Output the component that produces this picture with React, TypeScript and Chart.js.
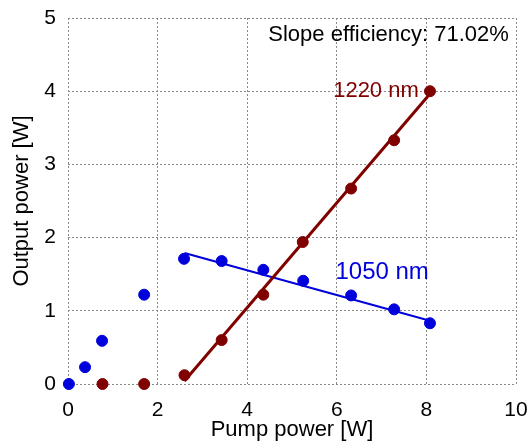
import React, { useEffect, useRef } from "react";
import { Chart, registerables } from "chart.js";

Chart.register(...registerables);

const blueX = [0.02, 0.38, 0.76, 1.7, 2.59, 3.43, 4.36, 5.25, 6.32, 7.28, 8.08];
const blueY = [0.0, 0.23, 0.59, 1.22, 1.71, 1.68, 1.56, 1.41, 1.21, 1.02, 0.83];
const redX = [0.77, 1.7, 2.6, 3.43, 4.36, 5.24, 6.32, 7.28, 8.08];
const redY = [0.0, 0.0, 0.12, 0.6, 1.22, 1.94, 2.67, 3.33, 4.0];
const blueFitX = [2.6, 8.1];
const blueFitY = [1.79, 0.86];
const redFitX = [2.6, 8.1];
const redFitY = [0.04, 3.98];
const xTicks = [0, 2, 4, 6, 8, 10];
const yTicks = [0, 1, 2, 3, 4, 5];
const labels = [
  { text: "Slope efficiency: 71.02%", x: 9.84, y: 4.77, align: "right", color: "#000000", size: 22 },
  { text: "1220 nm", x: 7.83, y: 4.0, align: "right", color: "#800000", size: 22 },
  { text: "1050 nm", x: 5.97, y: 1.52, align: "left", color: "#0000dd", size: 24 },
];

const RED = "#800000";
const BLUE = "#0000dd";
const FONT = "'Liberation Sans', Arial, sans-serif";

const pts = (xs: number[], ys: number[]) => xs.map((x, i) => ({ x, y: ys[i] }));

const textPlugin = {
  id: "textLabels",
  afterDatasetsDraw(chart: any) {
    const { ctx, scales } = chart;
    ctx.save();
    for (const l of labels) {
      ctx.font = `${l.size}px ${FONT}`;
      ctx.fillStyle = l.color;
      ctx.textAlign = l.align;
      ctx.textBaseline = "middle";
      ctx.fillText(l.text, scales.x.getPixelForValue(l.x), scales.y.getPixelForValue(l.y));
    }
    ctx.restore();
  },
};

export default function App() {
  const ref = useRef<HTMLCanvasElement>(null);
  useEffect(() => {
    const chart = new Chart(ref.current!, {
      type: "scatter",
      data: {
        datasets: [
          {
            data: pts(blueFitX, blueFitY),
            showLine: true,
            borderColor: BLUE,
            borderWidth: 2,
            pointRadius: 0,
            clip: false,
            order: 4,
          },
          {
            data: pts(redFitX, redFitY),
            showLine: true,
            borderColor: RED,
            borderWidth: 3,
            pointRadius: 0,
            clip: false,
            order: 3,
          },
          {
            data: pts(blueX, blueY),
            backgroundColor: BLUE,
            borderColor: BLUE,
            pointRadius: 5.5,
            clip: false,
            order: 2,
          },
          {
            data: pts(redX, redY),
            backgroundColor: RED,
            borderColor: RED,
            pointRadius: 5.5,
            clip: false,
            order: 1,
          },
        ],
      },
      options: {
        animation: false,
        responsive: false,
        maintainAspectRatio: false,
        layout: { padding: { top: 18, right: 13, left: 0, bottom: 0 } },
        plugins: { legend: { display: false }, tooltip: { enabled: false } },
        scales: {
          x: {
            type: "linear",
            min: 0,
            max: 10,
            afterBuildTicks: (s: any) => {
              s.ticks = xTicks.map((v) => ({ value: v }));
            },
            afterFit: (s: any) => {
              s.height = 57;
              s.paddingLeft = 0;
              s.paddingRight = 0;
            },
            grid: { color: "#8a8a8a", lineWidth: 1, drawTicks: false },
            border: { display: false, dash: [2, 2] },
            ticks: {
              color: "#000",
              padding: 14,
              maxRotation: 0,
              font: { family: FONT, size: 21 },
            },
            title: {
              display: true,
              text: "Pump power [W]",
              color: "#000",
              font: { family: FONT, size: 22, lineHeight: 1 },
              padding: { top: 0, bottom: 0 },
            },
          },
          y: {
            type: "linear",
            min: 0,
            max: 5,
            afterBuildTicks: (s: any) => {
              s.ticks = yTicks.map((v) => ({ value: v }));
            },
            afterFit: (s: any) => {
              s.width = 68;
              s.paddingTop = 0;
              s.paddingBottom = 0;
            },
            grid: { color: "#8a8a8a", lineWidth: 1, drawTicks: false },
            border: { display: false, dash: [2, 2] },
            ticks: {
              color: "#000",
              padding: 12,
              font: { family: FONT, size: 21 },
            },
            title: {
              display: true,
              text: "Output power [W]",
              color: "#000",
              font: { family: FONT, size: 22, lineHeight: 1 },
              padding: { top: 11, bottom: 0 },
            },
          },
        },
      },
      plugins: [textPlugin],
    } as any);
    return () => chart.destroy();
  }, []);
  return (
    <div style={{ position: "fixed", left: 0, top: 0, width: 529, height: 441, background: "#fff" }}>
      <canvas ref={ref} width={529} height={441} style={{ width: 529, height: 441, display: "block" }} />
    </div>
  );
}
